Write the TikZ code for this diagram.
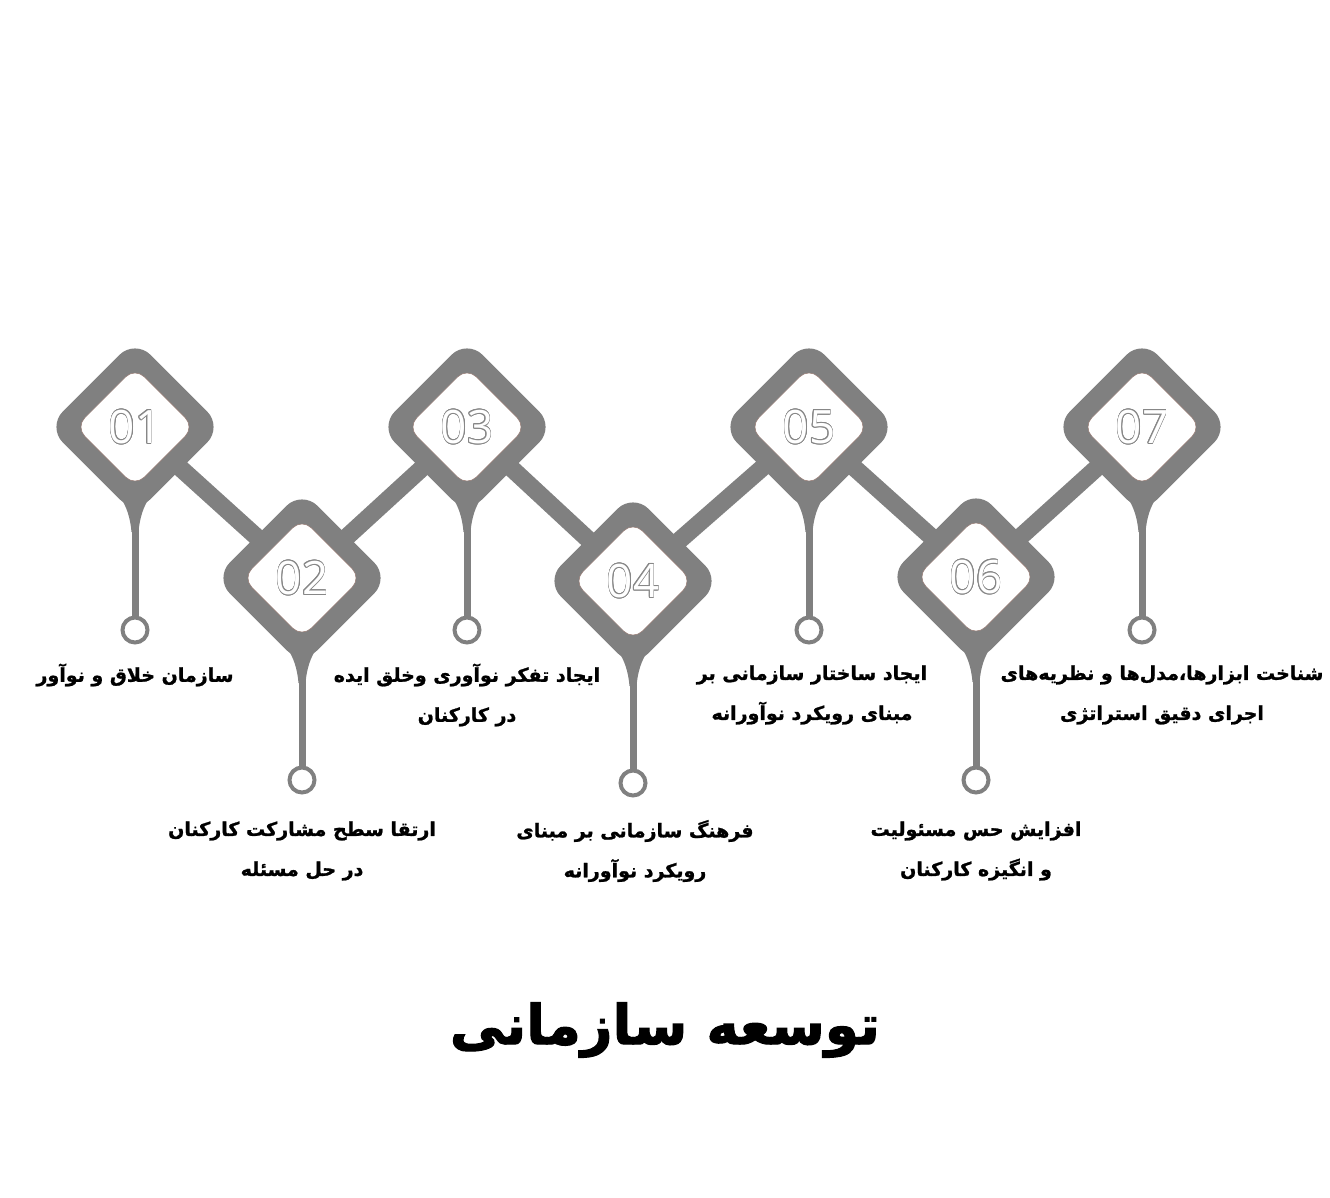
\documentclass[tikz,border=0pt]{standalone}
\usepackage{fontspec}
\newfontfamily\arabicfont[Script=Arabic, BoldFeatures={FakeBold=1.2}]{DejaVu Sans}
\newfontfamily\titlefont[Script=Arabic, BoldFeatures={FakeBold=2}]{DejaVu Sans}
\newfontfamily\numfont{Open Sans}
\TeXXeTstate=1
\usetikzlibrary{backgrounds}
\pgfdeclarelayer{canvas}
\pgfsetlayers{canvas,background,main}
\definecolor{dgray}{RGB}{128,128,128}
\definecolor{rim}{RGB}{150,120,112}
\definecolor{numgray}{RGB}{135,135,135}
\tikzset{
  outerd/.style={rectangle, rounded corners=22pt, minimum size=124pt, rotate=45, fill=dgray, inner sep=0pt},
  innerd/.style={rectangle, rounded corners=13pt, minimum size=84pt, rotate=45, fill=white, draw=rim, line width=0.5pt, inner sep=0pt},
  dot/.style={circle, draw=dgray, line width=4pt, minimum size=25pt, inner sep=0pt, fill=white},
  conn/.style={draw=dgray, line width=17.5pt},
  stemline/.style={draw=dgray, line width=7pt},
  lbl/.style={font=\arabicfont\bfseries\fontsize{19}{40}\selectfont, align=center, text=black},
  ttl/.style={font=\titlefont\bfseries\fontsize{55}{60}\selectfont, text=black},
  numo/.style={font=\numfont\fontsize{46}{46}\selectfont, text=numgray, inner sep=0pt},
  numf/.style={font=\numfont\fontsize{46}{46}\selectfont, text=white, inner sep=0pt}
}
\newcommand\numat[2]{%
  \foreach \a in {0,22.5,...,337.5}{\node[numo, shift={(\a:0.65)}] at (#1) {#2};}
  \node[numf] (#1n) at (#1) {#2};}
\newcommand\flare[1]{%
  \fill[dgray] ([shift={(-42,42)}]#1.center) .. controls ([shift={(-18,62)}]#1.center) and ([shift={(-6,76)}]#1.center) .. ([shift={(-3.5,105)}]#1.center)
   -- ([shift={(3.5,105)}]#1.center) .. controls ([shift={(6,76)}]#1.center) and ([shift={(18,62)}]#1.center) .. ([shift={(42,42)}]#1.center) -- cycle;}
\begin{document}
\begin{tikzpicture}[x=1pt,y=-1pt]
\begin{pgfonlayer}{canvas}
\fill[white] (0,0) rectangle (1330,1198);
\end{pgfonlayer}
\useasboundingbox (0,0) rectangle (1330,1198);

% outer diamonds
\node[outerd] (d1) at (135,427) {};
\node[outerd] (d2) at (302,578) {};
\node[outerd] (d3) at (467,427) {};
\node[outerd] (d4) at (633,581) {};
\node[outerd] (d5) at (809,427) {};
\node[outerd] (d6) at (976,577) {};
\node[outerd] (d7) at (1142,427) {};

% circles
\node[dot] (c1) at (135,630) {};
\node[dot] (c2) at (302,780) {};
\node[dot] (c3) at (467,630) {};
\node[dot] (c4) at (633,783) {};
\node[dot] (c5) at (809,630) {};
\node[dot] (c6) at (976,780) {};
\node[dot] (c7) at (1142,630) {};

% inner diamonds
\foreach \i in {1,...,7}{\node[innerd] (i\i) at (d\i) {};}

% numbers
\numat{d1}{01}
\numat{d2}{02}
\numat{d3}{03}
\numat{d4}{04}
\numat{d5}{05}
\numat{d6}{06}
\numat{d7}{07}

\begin{pgfonlayer}{background}
\draw[conn] (d1.center) -- (d2.center) -- (d3.center) -- (d4.center) -- (d5.center) -- (d6.center) -- (d7.center);
\foreach \i in {1,...,7}{\flare{d\i}\draw[stemline] (d\i.center) -- (c\i.center);}
\end{pgfonlayer}

% labels
\node[lbl] (t1) at (135,675) {\beginR سازمان خلاق و نوآور\endR};
\node[lbl] (t2) at (302,851) {\beginR ارتقا سطح مشارکت کارکنان\endR\\\beginR در حل مسئله\endR};
\node[lbl] (t3) at (467,695) {\beginR ایجاد تفکر نوآوری وخلق ایده\endR\\\beginR در کارکنان\endR};
\node[lbl] (t4) at (635,851) {\beginR فرهنگ سازمانی بر مبنای\endR\\\beginR رویکرد نوآورانه\endR};
\node[lbl] (t5) at (812,695) {\beginR ایجاد ساختار سازمانی بر\endR\\\beginR مبنای رویکرد نوآورانه\endR};
\node[lbl] (t6) at (976,851) {\beginR افزایش حس مسئولیت\endR\\\beginR و انگیزه کارکنان\endR};
\node[lbl] (t7) at (1162,695) {\beginR شناخت ابزارها،مدل‌ها و نظریه‌های\endR\\\beginR اجرای دقیق استراتژی\endR};

\node[ttl] (title) at (665,1030) {\beginR توسعه سازمانی\endR};
\end{tikzpicture}
\end{document}
